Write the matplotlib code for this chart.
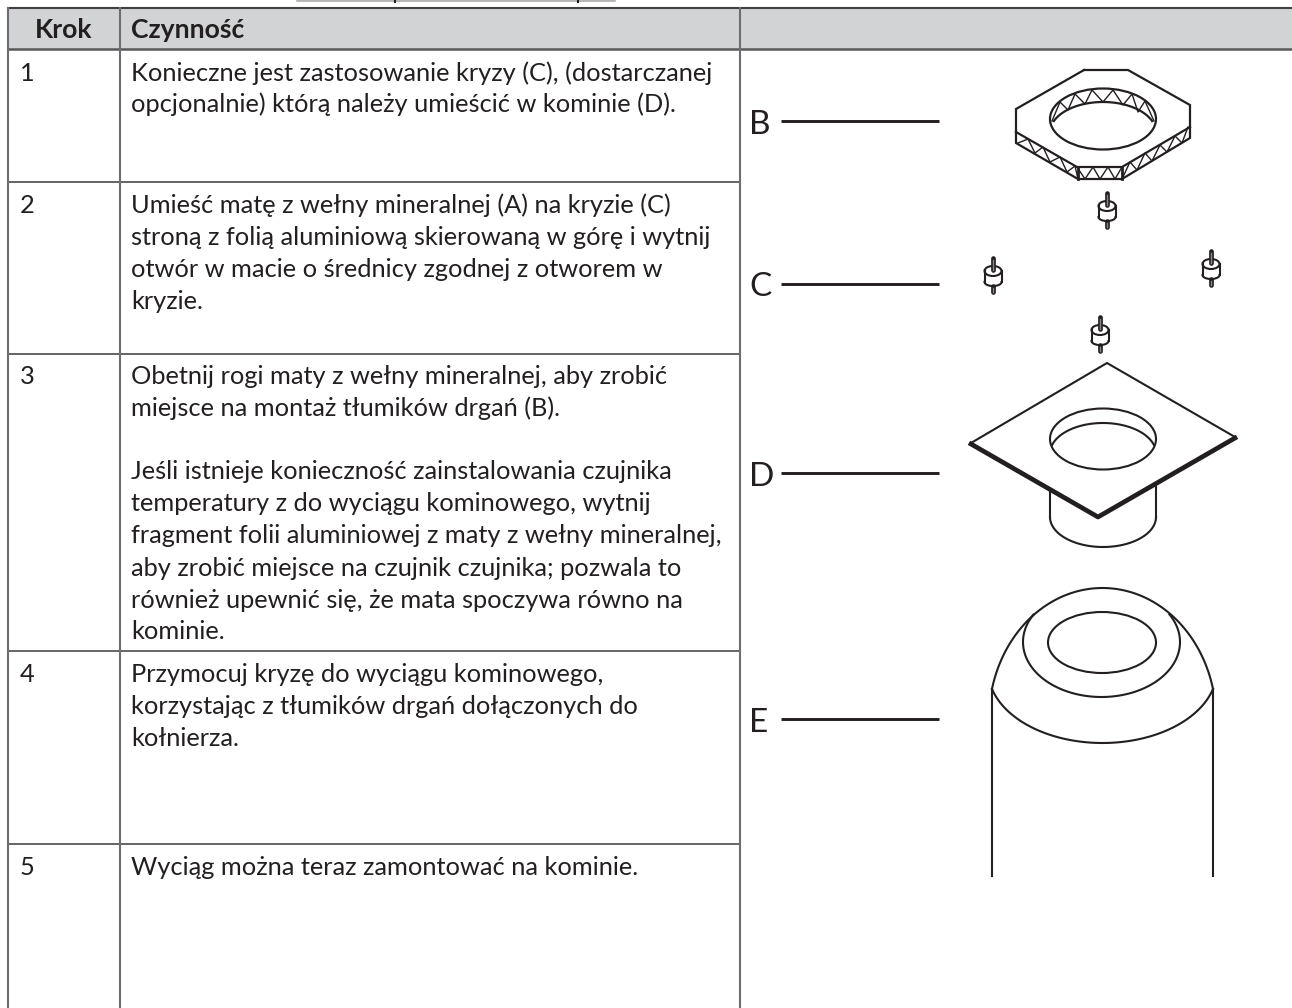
import numpy as np
import matplotlib
matplotlib.use("Agg")
import matplotlib.pyplot as plt
from matplotlib.patches import Ellipse, Rectangle

plt.rcParams['font.family'] = ['Lato', 'DejaVu Sans']

DARK = '#231f20'
HEAD = '#d1d3d4'
RULE = '#58595b'
VRULE = '#6d6e71'

headers = ['Krok', 'Czynność']
steps = ['1', '2', '3', '4', '5']
step_y = [80.7, 212.7, 383.7, 681.7, 875]
row_lines = [182, 354, 651, 844]

# baseline y, text
lines = [
    (80.7, 'Konieczne jest zastosowanie kryzy (C), (dostarczanej'),
    (112.5, 'opcjonalnie) którą należy umieścić w kominie (D).'),
    (212.7, 'Umieść matę z wełny mineralnej (A) na kryzie (C)'),
    (244.7, 'stroną z folią aluminiową skierowaną w górę i wytnij'),
    (276.7, 'otwór w macie o średnicy zgodnej z otworem w'),
    (309.3, 'kryzie.'),
    (383.7, 'Obetnij rogi maty z wełny mineralnej, aby zrobić'),
    (416, 'miejsce na montaż tłumików drgań (B).'),
    (479, 'Jeśli istnieje konieczność zainstalowania czujnika'),
    (511, 'temperatury z do wyciągu kominowego, wytnij'),
    (543, 'fragment folii aluminiowej z maty z wełny mineralnej,'),
    (576, 'aby zrobić miejsce na czujnik czujnika; pozwala to'),
    (607.7, 'również upewnić się, że mata spoczywa równo na'),
    (639.3, 'kominie.'),
    (681.7, 'Przymocuj kryzę do wyciągu kominowego,'),
    (714, 'korzystając z tłumików drgań dołączonych do'),
    (746, 'kołnierza.'),
    (875, 'Wyciąg można teraz zamontować na kominie.'),
]

# callouts: letter, baseline, y of rule
labels = ['B', 'C', 'D', 'E']
label_base = [134, 296.5, 486, 732]
rule_y = [121.3, 284.3, 473.3, 719]
rule_x0 = 780.7
rule_x1 = 939

# grommets: x, top y
damper_x = [1107, 993, 1211, 1100]
damper_y = [193, 258, 251, 317]

oct_outer = [(1084, 70), (1128, 70), (1190, 105), (1190, 138), (1122, 179), (1078, 179), (1016, 143), (1016, 109), (1084, 70)]
oct_fold = [(1016, 132), (1077, 167), (1122, 167), (1190, 127)]
zig_left = [(1018, 143), (1028, 139), (1035, 153), (1043, 147), (1050, 162), (1060, 157), (1067, 172), (1075, 166), (1078, 179)]
zig_front = [(1077, 167), (1085, 179), (1093, 167), (1100, 179), (1108, 167), (1115, 179), (1122, 167)]
zig_right = [(1122, 179), (1130, 162), (1137, 170), (1145, 153), (1152, 161), (1160, 145), (1167, 152), (1175, 136), (1182, 143), (1188, 127)]
zig_hole = [(1052, 121), (1060, 102), (1068, 110), (1075, 94), (1085, 104), (1092, 90), (1103, 102), (1113, 90), (1123, 105), (1132, 94), (1138, 112), (1145, 101), (1154, 121)]

plate_top = [(971, 443), (1107, 363), (1235, 437)]
plate_bottom = [(971, 444), (1098, 517), (1235, 438)]


def arc(ax, cx, cy, a, b, t0, t1, lw=1.5):
    # y axis points down, so t=90 is the lowest point of the ellipse
    t = np.radians(np.linspace(t0, t1, 120))
    ax.plot(cx + a * np.cos(t), cy + b * np.sin(t), color=DARK, lw=lw)


def damper(ax, x, y):
    ax.add_patch(Ellipse((x, y + 13), 17, 10, fill=False, ec=DARK, lw=1.5))
    ax.plot([x - 8.5, x - 8.5], [y + 13, y + 24], color=DARK, lw=1.5)
    ax.plot([x + 8.5, x + 8.5], [y + 13, y + 24], color=DARK, lw=1.5)
    arc(ax, x, y + 24, 8.5, 4, 0, 180, lw=1.5)
    for y0, y1 in [(y, y + 12), (y + 28, y + 34)]:
        ax.plot([x, x], [y0, y1], color=DARK, lw=3.4, solid_capstyle='round')
        ax.plot([x, x], [y0 + 2, y1], color='#8a8a8a', lw=1)


fig = plt.figure(figsize=(12.92, 10.08), dpi=100)
ax = fig.add_axes([0, 0, 1, 1])
ax.set_xlim(0, 1292)
ax.set_ylim(1008, 0)
ax.axis('off')

# heading fragment cut off at the top of the page
ax.plot([297, 615], [0.5, 0.5], color='#a7a9ac', lw=1.2)
ax.plot([395, 395], [0, 2], color=DARK, lw=1.5)
ax.plot([578, 578], [0, 2], color=DARK, lw=1.5)

# table
ax.add_patch(Rectangle((8, 7.5), 1284, 41.5, fc=HEAD, ec='none'))
ax.plot([8, 1292], [7.5, 7.5], color='#414042', lw=1.5)
ax.plot([8, 1292], [49, 49], color=RULE, lw=1.8)
for y in row_lines:
    ax.plot([8, 740], [y, y], color=RULE, lw=1.3)
for x in [8, 120, 740]:
    ax.plot([x, x], [7.5, 1008], color=VRULE, lw=1.5)

ax.text(64, 37.5, headers[0], fontsize=19.1, fontweight='bold', color=DARK, ha='center', va='baseline')
ax.text(131, 37.5, headers[1], fontsize=19.1, fontweight='bold', color=DARK, ha='left', va='baseline')
for s, y in zip(steps, step_y):
    ax.text(20, y, s, fontsize=18.3, color=DARK, ha='left', va='baseline')
for y, t in lines:
    ax.text(131, y, t, fontsize=18.3, color=DARK, ha='left', va='baseline')

for l, b, y in zip(labels, label_base, rule_y):
    ax.text(749, b, l, fontsize=24, color=DARK, ha='left', va='baseline')
    ax.plot([rule_x0, rule_x1], [y, y], color=DARK, lw=2.1, solid_capstyle='butt')

# flange
ax.plot(*zip(*oct_outer), color=DARK, lw=1.6, solid_joinstyle='miter')
ax.plot(*zip(*oct_fold), color=DARK, lw=1.6)
for z in [zig_left, zig_front, zig_right]:
    ax.plot(*zip(*z), color=DARK, lw=1.0)
ax.plot([1078, 1078], [167, 179], color=DARK, lw=2)
ax.plot([1122, 1122], [167, 179], color=DARK, lw=2)
ax.add_patch(Ellipse((1103, 119), 106, 61, fill=False, ec=DARK, lw=1.6))
arc(ax, 1103, 132.5, 53, 30.5, 202, 338, lw=1.6)
ax.plot(*zip(*zig_hole), color=DARK, lw=1.0)

for x, y in zip(damper_x, damper_y):
    damper(ax, x, y)

# plate with pipe
ax.plot(*zip(*plate_top), color=DARK, lw=1.5)
ax.plot(*zip(*plate_bottom), color=DARK, lw=3.4)
ax.add_patch(Ellipse((1103, 439), 106, 61, fill=False, ec=DARK, lw=1.5))
arc(ax, 1103, 453.5, 53, 30.5, 196, 344)
ax.plot([1050, 1050], [492, 518], color=DARK, lw=1.5)
ax.plot([1156, 1156], [484, 518], color=DARK, lw=1.5)
arc(ax, 1103, 517, 53, 30, 0, 180)

# chimney
arc(ax, 1102.5, 720, 113.7, 132, 193.6, 346.4)
arc(ax, 1102.5, 670, 114.4, 73, 15, 165)
arc(ax, 1101.5, 642, 78.5, 55, -30, 210)
ax.add_patch(Ellipse((1102, 642.5), 108, 61, fill=False, ec=DARK, lw=1.5))
ax.plot([992, 992], [689, 876], color=DARK, lw=1.5)
ax.plot([1213, 1213], [689, 876], color=DARK, lw=1.5)

fig.savefig('out.png', dpi=100)
